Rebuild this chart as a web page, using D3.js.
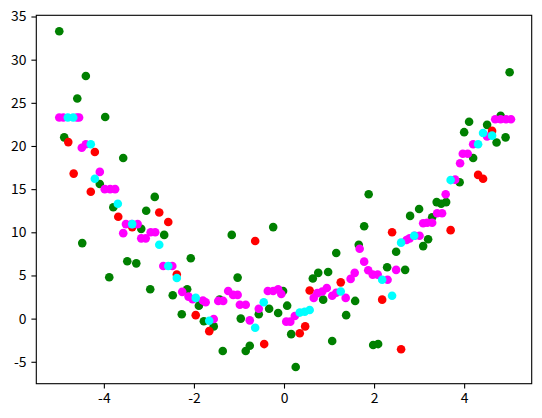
<!DOCTYPE html>
<html>
<head>
<meta charset="utf-8">
<script src="https://cdn.jsdelivr.net/npm/d3@7"></script>
<style>
  body { margin: 0; background: #fff; }
  svg text { font-family: "Noto Sans CJK KR", "Noto Sans", sans-serif; font-size: 13.9px; fill: #000; }
</style>
</head>
<body>
<div id="chart"></div>
<script>
// training data (green)
const greenX = [-4.99, -4.40, -4.59, -3.97, -4.88, -3.57, -4.09, -2.87, -3.79, -3.06, -3.17, -2.66, -4.48, -2.07, -3.48, -3.28, -3.88, -2.97, -2.47, -2.15, -1.89, -2.27, -1.78, -1.16, -0.24, -1.03, -1.56, -1.43, -0.96, -1.36, -0.85, -0.76, -0.56, -0.33, -0.02, -0.13, 0.07, 0.16, 0.26, 0.64, 0.76, 0.98, 0.87, 1.07, 1.16, 1.38, 1.58, 1.66, 1.88, 1.78, 2.29, 2.69, 1.98, 2.09, 2.49, 2.80, 3.00, 3.09, 3.20, 3.29, 3.39, 3.49, 3.60, 3.90, 5.01, 4.81, 4.11, 4.51, 4.00, 4.92, 4.72, 4.20];
const greenY = [33.3, 28.1, 25.5, 23.35, 21.0, 18.6, 15.6, 14.1, 12.9, 12.5, 10.4, 9.7, 8.75, 7.0, 6.65, 6.4, 4.8, 3.4, 2.7, 3.4, 1.5, 0.5, -0.3, 9.7, 10.6, 4.75, -0.9, 2.2, 0.0, -3.75, -3.75, -3.15, 0.5, 1.15, 3.2, 0.65, 1.5, -1.8, -5.6, 4.65, 5.3, 5.4, 2.2, -2.6, 7.6, 0.4, 2.05, 8.55, 14.4, 10.7, 5.95, 5.65, -3.05, -2.95, 7.75, 11.9, 12.7, 8.4, 9.2, 11.75, 13.5, 13.3, 13.5, 15.8, 28.55, 23.5, 22.8, 22.45, 21.6, 21.0, 20.4, 18.6];

// test data (red)
const redX = [-4.79, -4.20, -4.67, -4.29, -2.77, -3.68, -2.57, -3.37, -2.38, -1.96, -1.66, -0.64, -0.44, 0.35, 0.47, 0.57, 1.26, 2.18, 2.60, 2.40, 3.70, 4.42, 4.31, 4.62];
const redY = [20.45, 19.3, 16.8, 14.7, 12.3, 11.8, 11.2, 10.6, 5.1, 0.4, -1.45, 9.0, -2.95, -1.7, -0.9, 3.25, 4.2, 2.2, -3.55, 10.0, 10.25, 16.2, 16.65, 21.75];

// predictions on training data (magenta)
const magentaX = [-4.99, -4.90, -4.60, -4.55, -4.49, -4.40, -4.09, -3.98, -3.86, -3.75, -3.51, -3.38, -3.25, -3.57, -3.17, -3.07, -2.96, -2.86, -2.68, -2.48, -2.26, -2.12, -2.03, -1.80, -1.74, -1.56, -1.46, -1.35, -1.24, -1.13, -1.03, -0.98, -0.85, -0.76, -0.56, -0.36, -0.24, -0.13, -0.06, 0.05, 0.14, 0.24, 0.66, 0.74, 0.85, 0.95, 1.07, 1.16, 1.37, 1.48, 1.57, 1.68, 1.78, 1.87, 1.97, 2.08, 2.30, 2.49, 2.72, 2.79, 2.90, 3.01, 3.09, 3.18, 3.29, 3.40, 3.51, 3.59, 3.80, 3.91, 3.97, 4.08, 4.20, 4.51, 4.69, 4.81, 4.93, 5.04];
const magentaY = [23.3, 23.3, 23.3, 23.3, 19.8, 20.2, 17.0, 15.0, 15.0, 15.0, 10.95, 10.95, 10.95, 9.9, 9.3, 9.3, 10.0, 10.0, 6.1, 6.1, 3.1, 2.55, 2.25, 2.1, 1.9, -0.05, 2.05, 2.05, 3.2, 2.75, 2.75, 1.6, 1.6, -0.2, 1.15, 3.2, 3.2, 3.4, 2.85, -0.35, -0.35, 0.3, 2.4, 2.95, 3.15, 3.55, 2.65, 3.0, 2.4, 4.6, 5.3, 8.1, 6.6, 5.6, 5.1, 5.1, 4.5, 5.65, 9.1, 9.3, 9.6, 9.6, 11.05, 11.1, 11.1, 12.2, 12.2, 14.4, 16.1, 18.0, 19.1, 19.1, 20.2, 21.1, 23.1, 23.1, 23.1, 23.1];

// predictions on test data (cyan)
const cyanX = [-4.80, -4.68, -4.29, -4.20, -3.69, -3.37, -2.77, -2.57, -2.38, -1.96, -1.66, -0.64, -0.45, 0.35, 0.46, 0.57, 1.26, 2.18, 2.40, 2.60, 2.89, 3.70, 4.31, 4.42, 4.62];
const cyanY = [23.3, 23.3, 20.2, 16.2, 13.3, 10.95, 8.55, 6.1, 4.7, 2.4, -0.25, -1.05, 1.9, 0.7, 0.8, 1.0, 3.15, 4.5, 2.65, 8.8, 9.6, 16.05, 20.2, 21.5, 21.2];

const xTicks = [-4, -2, 0, 2, 4];
const yTicks = [-5, 0, 5, 10, 15, 20, 25, 30, 35];

const width = 542, height = 418;
const plotLeft = 36.3, plotRight = 531.7, plotTop = 15.3, plotBottom = 383.7;

const svg = d3.select("#chart").append("svg")
    .attr("width", width)
    .attr("height", height);

const x = d3.scaleLinear().domain([-5.5, 5.5]).range([plotLeft, plotRight]);
const y = d3.scaleLinear().domain([-7.54, 35.14]).range([plotBottom, plotTop]);

// Draw each series in matplotlib's order
function drawSeries(xs, ys, color) {
    svg.append("g")
        .selectAll("circle")
        .data(xs.map((d, i) => [d, ys[i]]))
        .enter()
        .append("circle")
        .attr("cx", d => x(d[0]))
        .attr("cy", d => y(d[1]))
        .attr("r", 4.3)
        .attr("fill", color);
}
drawSeries(greenX, greenY, "#008000");
drawSeries(redX, redY, "#ff0000");
drawSeries(magentaX, magentaY, "#ff00ff");
drawSeries(cyanX, cyanY, "#00ffff");

// Axes
const xAxis = svg.append("g")
    .attr("transform", `translate(0,${plotBottom})`)
    .call(d3.axisBottom(x).tickValues(xTicks).tickFormat(d3.format("d"))
        .tickSize(4.9).tickPadding(4.9).tickSizeOuter(0));
const yAxis = svg.append("g")
    .attr("transform", `translate(${plotLeft},0)`)
    .call(d3.axisLeft(y).tickValues(yTicks).tickFormat(d3.format("d"))
        .tickSize(4.9).tickPadding(4.9).tickSizeOuter(0));

[xAxis, yAxis].forEach(a => {
    a.select(".domain").remove();
    a.selectAll(".tick line").attr("stroke", "#000").attr("stroke-width", 1.1);
    a.selectAll("text").attr("font-family", null).attr("font-size", null);
});

// hyphen minus like the reference
svg.selectAll(".tick text").text(function () { return d3.select(this).text().replace("\u2212", "-"); });

// spines
svg.append("rect")
    .attr("x", plotLeft)
    .attr("y", plotTop)
    .attr("width", plotRight - plotLeft)
    .attr("height", plotBottom - plotTop)
    .attr("fill", "none")
    .attr("stroke", "#000")
    .attr("stroke-width", 1.1);
</script>
</body>
</html>
